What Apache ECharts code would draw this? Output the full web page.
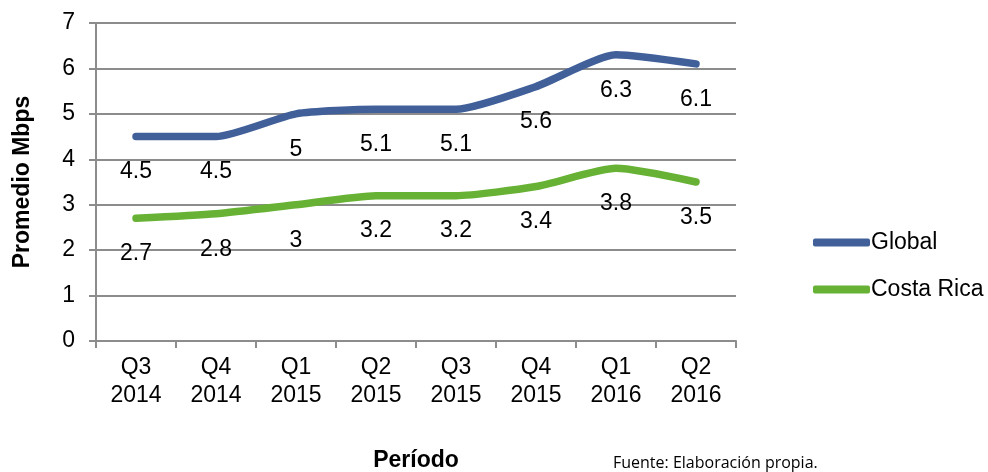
<!DOCTYPE html>
<html>
<head>
<meta charset="utf-8">
<script src="https://cdn.jsdelivr.net/npm/echarts@6/dist/echarts.min.js"></script>
<style>
html,body{margin:0;padding:0;background:#fff;}
#chart{width:988px;height:472px;}
</style>
</head>
<body>
<div id="chart"></div>
<script>
const categories = ['Q3\n2014','Q4\n2014','Q1\n2015','Q2\n2015','Q3\n2015','Q4\n2015','Q1\n2016','Q2\n2016'];
const globalValues = [4.5, 4.5, 5, 5.1, 5.1, 5.6, 6.3, 6.1];
const costaRicaValues = [2.7, 2.8, 3, 3.2, 3.2, 3.4, 3.8, 3.5];
const yTicks = {min: 0, max: 7, interval: 1};

const font = '"Liberation Sans", Arial, sans-serif';
const chart = echarts.init(document.getElementById('chart'), null, {renderer: 'canvas'});

function lineSeries(name, data, color) {
  return {
    name: name,
    type: 'line',
    data: data,
    smooth: 0.2,
    symbol: 'circle',
    symbolSize: 2,
    itemStyle: {color: color},
    lineStyle: {color: color, width: 7.5, cap: 'round', join: 'round'},
    label: {
      show: true,
      position: 'bottom',
      distance: 23,
      color: '#000',
      fontFamily: font,
      fontSize: 23
    },
    emphasis: {disabled: true},
    animation: false
  };
}

chart.setOption({
  animation: false,
  backgroundColor: '#fff',
  grid: {left: 96, right: 252, top: 23, bottom: 131, containLabel: false, outerBoundsMode: 'none'},
  legend: {
    orient: 'vertical',
    left: 808,
    top: 226,
    itemWidth: 57,
    itemHeight: 8,
    itemGap: 24,
    icon: 'roundRect',
    textStyle: {fontFamily: font, fontSize: 23, color: '#000', padding: [0,0,0,-4]},
    data: [
      {name: 'Global', itemStyle: {color: '#41609a'}},
      {name: 'Costa Rica', itemStyle: {color: '#67b235'}}
    ]
  },
  xAxis: {
    type: 'category',
    data: categories,
    boundaryGap: true,
    name: 'Período',
    nameLocation: 'middle',
    nameGap: 108,
    nameTextStyle: {fontFamily: font, fontSize: 23, fontWeight: 'bold', color: '#000'},
    axisLine: {lineStyle: {color: '#8c8c8c', width: 2}},
    axisTick: {show: true, length: 7, alignWithLabel: false, lineStyle: {color: '#8c8c8c', width: 2}},
    axisLabel: {fontFamily: font, fontSize: 23, color: '#000', lineHeight: 28, margin: 13, interval: 0}
  },
  yAxis: {
    type: 'value',
    min: yTicks.min,
    max: yTicks.max,
    interval: yTicks.interval,
    name: 'Promedio Mbps',
    nameLocation: 'middle',
    nameGap: 62,
    nameRotate: 90,
    nameTextStyle: {fontFamily: font, fontSize: 23, fontWeight: 'bold', color: '#000'},
    axisLine: {show: true, lineStyle: {color: '#8c8c8c', width: 2}},
    axisTick: {show: true, length: 7, lineStyle: {color: '#8c8c8c', width: 2}},
    splitLine: {show: true, lineStyle: {color: '#8c8c8c', width: 2}},
    axisLabel: {fontFamily: font, fontSize: 23, color: '#000', margin: 21}
  },
  graphic: [{
    type: 'text',
    left: 613,
    top: 455,
    style: {text: 'Fuente: Elaboración propia.', font: '16px "Open Sans", sans-serif', fill: '#000'}
  }],
  series: [
    lineSeries('Global', globalValues, '#41609a'),
    lineSeries('Costa Rica', costaRicaValues, '#67b235')
  ]
});
</script>
</body>
</html>
